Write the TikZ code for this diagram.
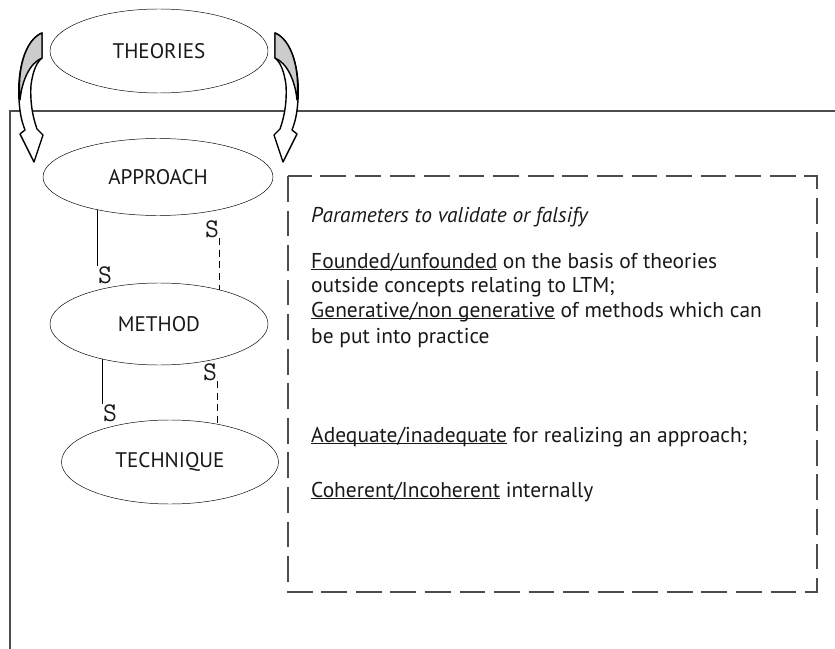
\documentclass[tikz,border=0pt]{standalone}
\usepackage{fontspec}
\setmainfont{PT Sans}
\usepackage{xcolor}
\usepackage{tikz}
\usetikzlibrary{positioning, shapes, backgrounds}

\definecolor{framegray}{gray}{0.3}
\definecolor{ribbongray}{gray}{0.8}
\definecolor{inkgray}{gray}{0.1}

\newcommand{\ulword}[1]{\underline{\smash{#1}}}

\tikzset{
  bendarrow/.pic={
    % front of the ribbon with its head
    \filldraw[fill=white, line width=1.2pt, line join=round]
      (0,0) .. controls (17,7) and (25,37) .. (23,67)
      .. controls (22,82) and (20,89) .. (17,97) -- (22,101) -- (8,129)
      -- (-1,102) -- (5,96) .. controls (10,82) and (12,67) .. (11,52)
      .. controls (9,37) and (5,29) .. (0,25) -- cycle;
    % shaded back of the ribbon
    \filldraw[fill=ribbongray, line width=1.2pt, line join=round]
      (0,0) -- (0,25) .. controls (12,30) and (20,47) .. (22,67)
      .. controls (25,37) and (17,7) .. (0,0) -- cycle;
  }
}

\begin{document}
\begin{tikzpicture}[x=0.03cm, y=-0.03cm,
    stage/.style={ellipse, draw, fill=white, inner sep=0pt, text=inkgray,
      font=\fontsize{18}{21}\selectfont},
    slabel/.style={inner sep=0pt, text=inkgray, font=\fontsize{23}{23}\ttfamily},
    textline/.style={anchor=base west, inner sep=0pt, text=inkgray,
      font=\fontsize{18.3}{21}\selectfont},
    frameline/.style={draw=framegray, line width=1.2pt},
    criteria/.style={draw=framegray, line width=1.1pt, dash pattern=on 22pt off 7.5pt},
    slink/.style={line width=0.8pt},
    sdash/.style={line width=0.9pt, dash pattern=on 6pt off 4pt}]
  \useasboundingbox (0,0) rectangle (835,649);

  % Open frame
  \draw[frameline] (835,111) -- (10,111) -- (10,649);

  % Bent arrows round the top
  \pic at (275,33) {bendarrow};
  \pic[xscale=-1] at (42,33) {bendarrow};

  % Ellipses
  \node[stage, minimum width=6.54cm, minimum height=2.52cm] (theories) at (159,51) {THEORIES};
  \node[stage, minimum width=6.9cm, minimum height=2.31cm] (approach) at (158,177) {APPROACH};
  \node[stage, minimum width=6.54cm, minimum height=2.46cm] (method) at (159,324) {METHOD};
  \node[stage, minimum width=6.51cm, minimum height=2.52cm] (technique) at (170,462) {TECHNIQUE};

  % S marks
  \node[slabel] (sa) at (105,275) {S};
  \node[slabel] (sb) at (212,229) {S};
  \node[slabel] (sc) at (110,413) {S};
  \node[slabel] (sd) at (210,372) {S};

  % Links, hidden under the ellipses
  \begin{scope}[on background layer]
    \draw[slink] (sa.north west |- approach.center) -- (sa.north west);
    \draw[sdash] (sb.south east) -- (sb.south east |- method.center);
    \draw[slink] (sc.north west |- method.center) -- (sc.north west);
    \draw[sdash] (sd.south east) -- (sd.south east |- technique.center);
  \end{scope}

  % Dashed box
  \draw[criteria] (288,176) rectangle (817,592);

  % Box text
  \node[textline] (params) at (311,223) {\itshape Parameters to validate or falsify};
  \node[textline] (basis) at (311,268) {\ulword{Founded/unfounded} on the basis of theories};
  \node[textline] (ltm) at (311,292) {outside concepts relating to LTM;};
  \node[textline] (generative) at (311,317) {\ulword{Generative/non generative} of methods which can};
  \node[textline] (practice) at (311,343) {be put into practice};
  \node[textline] (adequate) at (311,442) {\ulword{Adequate/inadequate} for realizing an approach;};
  \node[textline] (coherent) at (311,497) {\ulword{Coherent/Incoherent} internally};
\end{tikzpicture}
\end{document}
